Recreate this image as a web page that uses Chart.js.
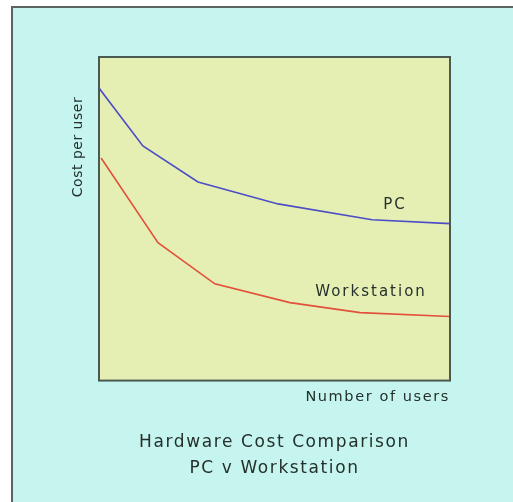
<!DOCTYPE html>
<html>
<head>
<meta charset="utf-8">
<script src="https://cdn.jsdelivr.net/npm/chart.js@4/dist/chart.umd.min.js"></script>
<style>
  html, body { margin: 0; padding: 0; background: #fff; overflow: hidden; width: 513px; height: 502px; }
  #frame {
    position: absolute; left: 11px; top: 6px;
    width: 520px; height: 510px;
    background: #c6f5f0;
    border-left: 2px solid #5a6460;
    border-top: 2px solid #5a6460;
  }
  #wrap { position: absolute; left: 0; top: 0; width: 513px; height: 502px; }
</style>
</head>
<body>
<div id="frame"></div>
<div id="wrap"><canvas id="costChart" width="513" height="502"></canvas></div>
<script>
// number of users (relative scale, 0-100) and cost per user (relative)
const pcUsers = [0, 12.5, 28.2, 51.0, 77.8, 100];
const pcCost = [90.4, 72.5, 61.4, 54.6, 49.7, 48.5];
const wsUsers = [0.6, 16.8, 33.0, 54.4, 74.4, 100];
const wsCost = [68.8, 42.6, 29.9, 24.1, 21.0, 19.8];

const seriesNames = ["PC", "Workstation"];

function toPoints(xs, ys) {
  return xs.map((x, i) => ({ x: x, y: ys[i] }));
}

// paints the plot box, the y title and the series names
const boxPlugin = {
  id: 'boxPlugin',
  beforeDraw(chart) {
    // the original text is drawn quite loosely spaced
    chart.ctx.letterSpacing = '1.6px';
  },
  beforeDatasetsDraw(chart) {
    const a = chart.chartArea;
    const ctx = chart.ctx;
    ctx.save();
    ctx.fillStyle = '#e5efb4';
    ctx.fillRect(a.left, a.top, a.right - a.left, a.bottom - a.top);
    ctx.restore();
  },
  afterDraw(chart, args, opts) {
    const a = chart.chartArea;
    const ctx = chart.ctx;
    ctx.save();
    ctx.strokeStyle = '#4a5a52';
    ctx.lineWidth = 2;
    ctx.strokeRect(a.left, a.top, a.right - a.left, a.bottom - a.top);

    ctx.fillStyle = '#25302c';
    ctx.font = '14px "DejaVu Sans"';
    ctx.letterSpacing = '0.5px';
    ctx.textAlign = 'center';
    ctx.textBaseline = 'middle';
    ctx.translate(78, 147);
    ctx.rotate(-Math.PI / 2);
    ctx.fillText('Cost per user', 0, 0);
    ctx.restore();

    ctx.save();
    ctx.fillStyle = '#25302c';
    ctx.font = '15px "DejaVu Sans"';
    ctx.letterSpacing = '2px';
    ctx.textAlign = 'center';
    ctx.textBaseline = 'middle';
    const xs = chart.scales.x, ys = chart.scales.y;
    opts.labels.forEach(l => {
      ctx.fillText(l.text, xs.getPixelForValue(l.x), ys.getPixelForValue(l.y));
    });
    ctx.restore();
    ctx.letterSpacing = '0px';
  }
};

new Chart(document.getElementById('costChart'), {
  type: 'line',
  data: {
    datasets: [
      {
        label: seriesNames[0],
        data: toPoints(pcUsers, pcCost),
        borderColor: '#4d4dc6',
        borderWidth: 1.6,
        pointRadius: 0,
        tension: 0
      },
      {
        label: seriesNames[1],
        data: toPoints(wsUsers, wsCost),
        borderColor: '#e2503a',
        borderWidth: 1.6,
        pointRadius: 0,
        tension: 0
      }
    ]
  },
  options: {
    responsive: false,
    animation: false,
    layout: { padding: { left: 99, top: 57, right: 63, bottom: 16 } },
    scales: {
      x: {
        type: 'linear', min: 0, max: 100,
        grid: { display: false, drawTicks: false },
        border: { display: false },
        ticks: { display: false },
        title: {
          display: true, text: 'Number of users', align: 'end',
          color: '#25302c', font: { family: 'DejaVu Sans', size: 14.5 },
          padding: { top: 8, bottom: 0 }
        }
      },
      y: {
        display: false, min: 0, max: 100
      }
    },
    plugins: {
      legend: { display: false },
      tooltip: { enabled: false },
      title: {
        display: true, position: 'bottom',
        text: ['Hardware Cost Comparison', 'PC v Workstation'],
        color: '#25302c',
        font: { family: 'DejaVu Sans', size: 17, weight: 'normal', lineHeight: 1.53 },
        padding: { top: 24, bottom: 4 }
      },
      boxPlugin: {
        labels: [
          { text: seriesNames[0], x: 84.3, y: 54.3 },
          { text: seriesNames[1], x: 77.5, y: 27.2 }
        ]
      }
    }
  },
  plugins: [boxPlugin]
});
</script>
</body>
</html>
